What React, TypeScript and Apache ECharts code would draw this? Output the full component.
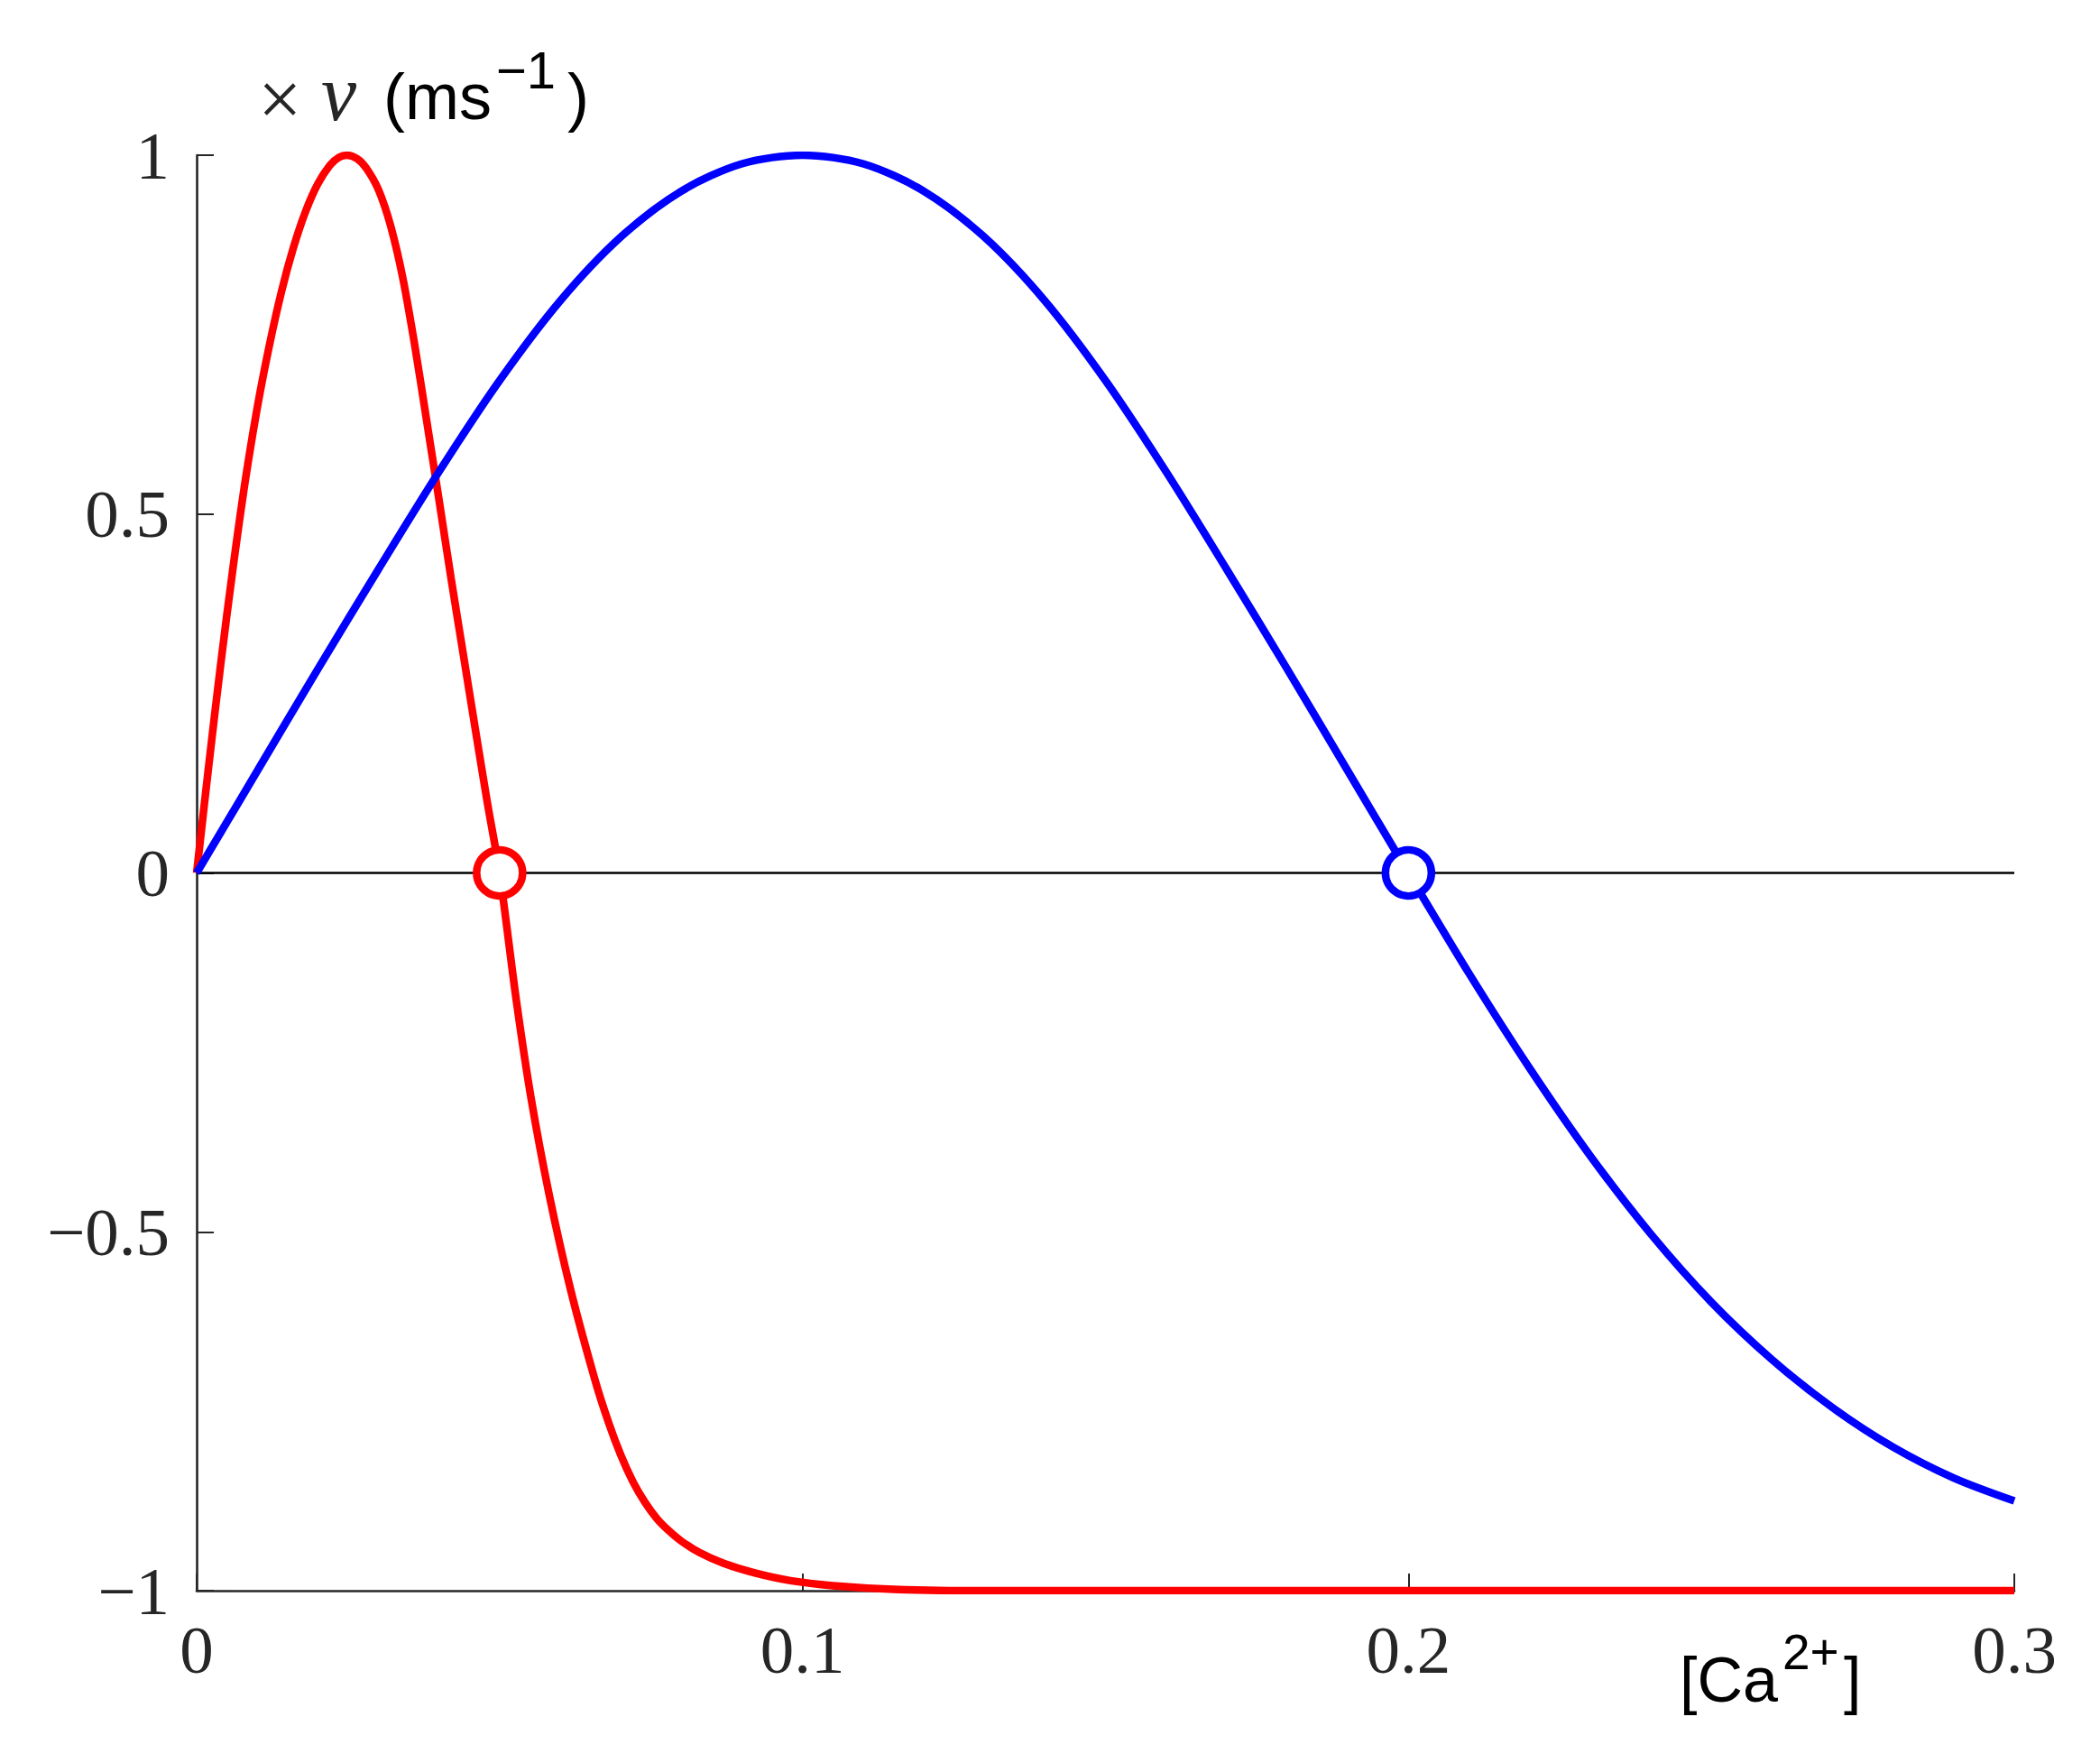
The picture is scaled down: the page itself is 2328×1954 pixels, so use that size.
import React, { useEffect, useRef } from "react";
import * as echarts from "echarts";

// Red curve: [Ca2+], value
const redX = [0, 0.002, 0.004, 0.006, 0.008, 0.01, 0.012, 0.014, 0.016, 0.018, 0.02, 0.022, 0.0235, 0.0248, 0.0265, 0.028, 0.03, 0.032, 0.034, 0.036, 0.038, 0.04, 0.042, 0.044, 0.046, 0.048, 0.05, 0.0528, 0.0552, 0.0582, 0.0617, 0.0658, 0.068, 0.07, 0.072, 0.074, 0.076, 0.078, 0.08, 0.083, 0.087, 0.092, 0.098, 0.105, 0.115, 0.13, 0.2, 0.3];
const redY = [0, 0.15, 0.293, 0.425, 0.545, 0.648, 0.735, 0.81, 0.872, 0.922, 0.96, 0.986, 0.997, 1.0, 0.995, 0.982, 0.952, 0.902, 0.83, 0.735, 0.628, 0.52, 0.41, 0.305, 0.2, 0.097, 0, -0.18, -0.314, -0.449, -0.58, -0.708, -0.766, -0.811, -0.848, -0.877, -0.9, -0.917, -0.931, -0.947, -0.962, -0.975, -0.986, -0.993, -0.998, -1, -1, -1];

// Blue curve
const blueX = [0, 0.01, 0.02, 0.03, 0.04, 0.05, 0.06, 0.07, 0.08, 0.09, 0.1, 0.11, 0.12, 0.13, 0.14, 0.15, 0.16, 0.17, 0.18, 0.19, 0.2, 0.21, 0.22, 0.23, 0.24, 0.25, 0.26, 0.27, 0.28, 0.29, 0.3];
const blueY = [0, 0.142, 0.284, 0.423, 0.559, 0.686, 0.797, 0.886, 0.95, 0.988, 1.0, 0.988, 0.95, 0.886, 0.797, 0.686, 0.559, 0.423, 0.284, 0.142, 0, -0.14, -0.272, -0.394, -0.503, -0.598, -0.678, -0.745, -0.8, -0.843, -0.875];

// Zero reference line
const zeroX = [0, 0.3];
const zeroY = [0, 0];

// Fixed points (open circles)
const redFixed = [[0.05, 0]];
const blueFixed = [[0.2, 0]];

const xTicks = { min: 0, max: 0.3, interval: 0.1 };
const yTicks = { min: -1, max: 1, interval: 0.5 };

const zip = (xs: number[], ys: number[]) => xs.map((x, i) => [x, ys[i]]);

const AXIS_COLOR = "#262626";

export default function App() {
  const ref = useRef<HTMLDivElement>(null);
  useEffect(() => {
    if (!ref.current) return;
    const chart = echarts.init(ref.current, undefined, { renderer: "svg" });
    const sans = "'Liberation Sans', Arial, sans-serif";
    const serif = "'Liberation Serif', 'Times New Roman', serif";
    chart.setOption({
      animation: false,
      backgroundColor: "#ffffff",
      grid: { left: 218, top: 172, right: 95, bottom: 191 },
      xAxis: {
        type: "value",
        min: xTicks.min,
        max: xTicks.max,
        interval: xTicks.interval,
        axisLine: { onZero: false, lineStyle: { color: AXIS_COLOR, width: 2.6 } },
        axisTick: { inside: true, length: 19, lineStyle: { color: AXIS_COLOR, width: 2 } },
        splitLine: { show: false },
        axisLabel: {
          margin: 28,
          color: AXIS_COLOR,
          fontFamily: serif,
          fontSize: 75,
          formatter: (v: number) => String(Math.round(v * 10) / 10),
        },
      },
      yAxis: {
        type: "value",
        min: yTicks.min,
        max: yTicks.max,
        interval: yTicks.interval,
        axisLine: { show: true, onZero: false, lineStyle: { color: AXIS_COLOR, width: 2.6 } },
        axisTick: { show: true, inside: true, length: 19, lineStyle: { color: AXIS_COLOR, width: 2 } },
        splitLine: { show: false },
        axisLabel: {
          margin: 30,
          color: AXIS_COLOR,
          fontFamily: serif,
          fontSize: 75,
          formatter: (v: number) => String(Math.round(v * 10) / 10).replace("-", "\u2212"),
        },
      },
      series: [
        {
          type: "line",
          data: zip(zeroX, zeroY),
          showSymbol: false,
          symbol: "none",
          lineStyle: { color: "#000000", width: 2.3 },
          z: 1,
          silent: true,
        },
        {
          type: "line",
          data: zip(redX, redY),
          showSymbol: false,
          symbol: "none",
          smooth: 0.3,
          lineStyle: { color: "#ff0000", width: 8.5 },
          z: 3,
        },
        {
          type: "line",
          data: zip(blueX, blueY),
          showSymbol: false,
          symbol: "none",
          smooth: 0.3,
          lineStyle: { color: "#0000ff", width: 8.5 },
          z: 3,
        },
        {
          type: "scatter",
          data: redFixed,
          symbol: "circle",
          symbolSize: 51,
          itemStyle: { color: "#ffffff", borderColor: "#ff0000", borderWidth: 8.5, opacity: 1 },
          z: 5,
        },
        {
          type: "scatter",
          data: blueFixed,
          symbol: "circle",
          symbolSize: 51,
          itemStyle: { color: "#ffffff", borderColor: "#0000ff", borderWidth: 8.5, opacity: 1 },
          z: 5,
        },
      ],
      graphic: [
        { type: "text", x: 286, y: 110, style: { text: "\u00d7", font: `86px ${serif}`, fill: AXIS_COLOR, verticalAlign: "middle", align: "left" } },
        { type: "text", x: 356, y: 103, style: { text: "\u03bd", font: `italic 88px ${serif}`, fill: AXIS_COLOR, verticalAlign: "middle", align: "left" } },
        { type: "text", x: 425, y: 107, style: { text: "(ms", font: `72px ${sans}`, fill: "#000000", verticalAlign: "middle", align: "left" } },
        { type: "text", x: 550, y: 77, style: { text: "\u22121", font: `58px ${sans}`, fill: "#000000", verticalAlign: "middle", align: "left" } },
        { type: "text", x: 629, y: 107, style: { text: ")", font: `72px ${sans}`, fill: "#000000", verticalAlign: "middle", align: "left" } },
        { type: "text", x: 1862, y: 1862, style: { text: "[Ca", font: `70px ${sans}`, fill: "#000000", verticalAlign: "middle", align: "left" } },
        { type: "text", x: 1976, y: 1831, style: { text: "2+", font: `55px ${sans}`, fill: "#000000", verticalAlign: "middle", align: "left" } },
        { type: "text", x: 2044, y: 1862, style: { text: "]", font: `70px ${sans}`, fill: "#000000", verticalAlign: "middle", align: "left" } },
      ],
    });
    return () => chart.dispose();
  }, []);
  return (
    <div
      ref={ref}
      style={{ position: "absolute", left: 0, top: 0, width: 2328, height: 1954, background: "#fff" }}
    />
  );
}
